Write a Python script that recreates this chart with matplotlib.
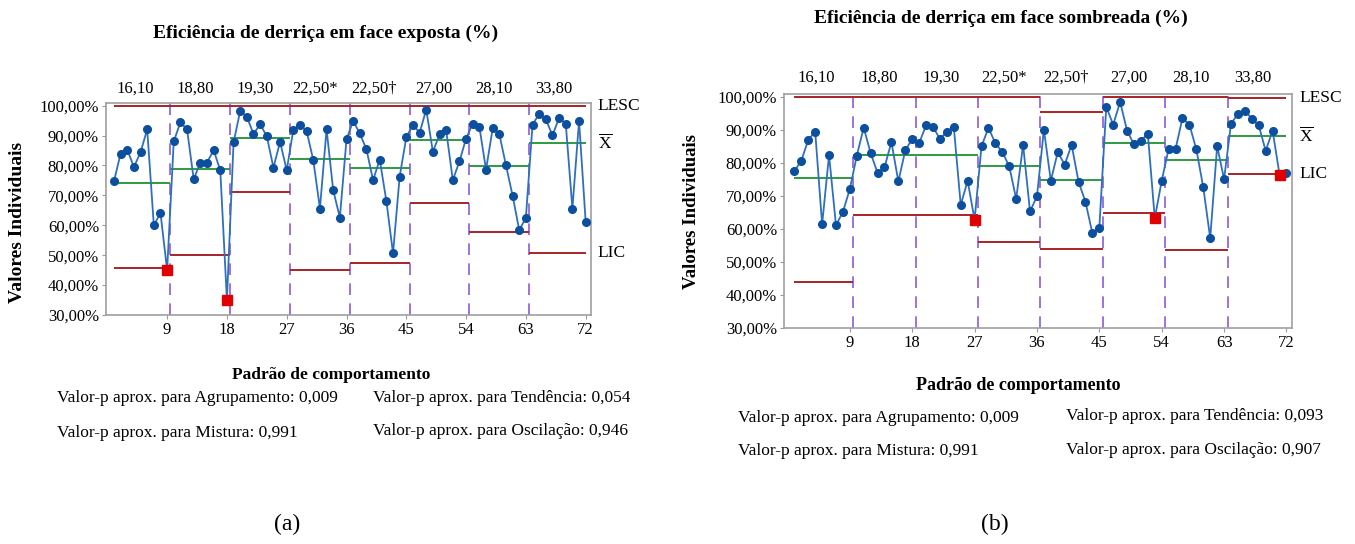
import matplotlib
matplotlib.use('Agg')
import matplotlib.pyplot as plt
import matplotlib.transforms as mtransforms

plt.rcParams['font.family'] = ['Liberation Serif', 'DejaVu Serif']
plt.rcParams['mathtext.fontset'] = 'custom'
plt.rcParams['mathtext.rm'] = 'Liberation Serif'

# estagios (padroes de comportamento) e eixos
estagios = ['16,10', '18,80', '19,30', '22,50*', '22,50\u2020', '27,00', '28,10', '33,80']
xticks = [9, 18, 27, 36, 45, 54, 63, 72]
yticks = [30, 40, 50, 60, 70, 80, 90, 100]

# (a) face exposta
exposta = [74.7, 84.0, 85.3, 79.5, 84.4, 92.1, 60.0, 64.1, 45.0,
           88.1, 94.4, 92.1, 75.4, 81.0, 81.0, 85.1, 78.4, 35.0,
           87.7, 98.2, 96.3, 90.5, 93.8, 89.8, 79.3, 87.9, 78.4,
           92.0, 93.5, 91.5, 81.8, 65.6, 92.1, 71.7, 62.6, 88.7,
           94.9, 90.7, 85.4, 75.1, 82.0, 68.1, 50.6, 76.3, 89.4,
           93.7, 90.9, 98.7, 84.6, 90.4, 91.8, 75.1, 81.4, 89.0,
           94.0, 92.9, 78.6, 92.4, 90.5, 80.1, 69.9, 58.4, 62.5,
           93.7, 97.2, 95.4, 90.1, 95.9, 94.0, 65.6, 94.9, 61.1]
exposta_media = [74.3, 78.9, 89.1, 82.2, 79.2, 88.4, 79.9, 87.5]
exposta_lic = [45.8, 50.2, 71.0, 45.2, 47.3, 67.6, 57.6, 50.9]
exposta_lesc = [100, 100, 100, 100, 100, 100, 100, 100]
exposta_fora = [9, 18]
exposta_p = ['0,009', '0,054', '0,991', '0,946']

# (b) face sombreada
sombreada = [77.5, 80.7, 87.0, 89.5, 61.4, 82.4, 61.1, 65.2, 72.1,
             82.2, 90.7, 83.0, 77.0, 78.7, 86.3, 74.4, 83.8, 87.3,
             86.0, 91.4, 90.9, 87.3, 89.5, 90.9, 67.3, 74.6, 62.8,
             85.1, 90.6, 86.0, 83.3, 79.0, 69.1, 85.5, 65.3, 69.9,
             90.1, 74.6, 83.3, 79.5, 85.5, 74.3, 68.2, 58.7, 60.4,
             97.0, 91.6, 98.5, 89.8, 85.6, 86.8, 88.8, 63.2, 74.6,
             84.3, 84.3, 93.6, 91.6, 84.1, 72.6, 57.2, 85.1, 75.1,
             91.9, 94.9, 95.9, 93.4, 91.4, 83.7, 89.8, 76.5, 76.9]
sombreada_media = [75.3, 82.4, 82.4, 79.2, 74.9, 86.2, 80.9, 88.3]
sombreada_lic = [43.9, 64.3, 64.3, 56.2, 54.0, 64.7, 53.5, 76.7]
sombreada_lesc = [100, 100, 100, 100, 95.4, 100, 100, 99.6]
sombreada_fora = [27, 53, 71]
sombreada_p = ['0,009', '0,093', '0,991', '0,907']


def fmt_pct(v):
    return '{:.2f}%'.format(v).replace('.', ',')


def desenha(ax, valores, media, lic, lesc, fora, xmin):
    n = len(valores)
    x = list(range(1, n + 1))
    ax.plot(x, valores, color='#2f6fbd', lw=1.3, marker='o', ms=5.5,
            mfc='#0c4f9f', mec='#0c4f9f', zorder=3)
    ax.plot(fora, [valores[i - 1] for i in fora], ls='none', marker='s', ms=7,
            mfc='#e00000', mec='#e00000', zorder=4)
    trans = mtransforms.blended_transform_factory(ax.transData, ax.transAxes)
    for k in range(len(estagios)):
        ini = max(1, k * 9 + 0.5)
        fim = min(n, k * 9 + 9.5)
        ax.hlines(lesc[k], ini, fim, color='#a82428', lw=1.4, zorder=2)
        ax.hlines(media[k], ini, fim, color='#2e9b3e', lw=1.4, zorder=2)
        ax.hlines(lic[k], ini, fim, color='#a82428', lw=1.4, zorder=2)
        ax.text(k * 9 + 4.2, 1.07, estagios[k], transform=trans,
                ha='center', va='center', fontsize=12)
        if k > 0:
            ax.axvline(k * 9 + 0.5, color='#8b5bd8', lw=1.2, ls=(0, (7, 5)), zorder=1)

    trans2 = mtransforms.blended_transform_factory(ax.transAxes, ax.transData)
    ax.text(1.014, lesc[-1], 'LESC', transform=trans2, ha='left', va='center', fontsize=12.5)
    ax.text(1.014, media[-1], r'$\overline{\mathrm{X}}$', transform=trans2,
            ha='left', va='center', fontsize=12.5)
    ax.text(1.014, lic[-1], 'LIC', transform=trans2, ha='left', va='center', fontsize=12.5)

    ax.set_xlim(xmin, 72.8)
    ax.set_ylim(30, 100.9)
    ax.set_xticks(xticks)
    ax.set_yticks(yticks)
    ax.set_yticklabels([fmt_pct(v) for v in yticks])
    ax.tick_params(direction='out', length=3, color='#9a9a9a', labelsize=12, pad=2)
    for s in ax.spines.values():
        s.set_color('#a0a0a0')
        s.set_linewidth(1.2)


fig = plt.figure(figsize=(13.55, 5.44), dpi=100)
W, H = 1355.0, 544.0

ax1 = fig.add_axes([106 / W, 1 - 315 / H, 485 / W, 212 / H])
desenha(ax1, exposta, exposta_media, exposta_lic, exposta_lesc, exposta_fora, -0.2)

ax2 = fig.add_axes([784 / W, 1 - 328 / H, 508 / W, 234 / H])
desenha(ax2, sombreada, sombreada_media, sombreada_lic, sombreada_lesc, sombreada_fora, -0.5)

# titulos e rotulos
fig.text(326 / W, 1 - 33 / H, 'Eficiência de derriça em face exposta (%)',
         ha='center', va='center', fontsize=14, fontweight='bold')
fig.text(1001 / W, 1 - 18 / H, 'Eficiência de derriça em face sombreada (%)',
         ha='center', va='center', fontsize=14, fontweight='bold')
fig.text(18 / W, 1 - 222 / H, 'Valores Individuais', rotation=90,
         ha='center', va='center', fontsize=14, fontweight='bold')
fig.text(691 / W, 1 - 211 / H, 'Valores Individuais', rotation=90,
         ha='center', va='center', fontsize=13.5, fontweight='bold')
fig.text(331 / W, 1 - 375 / H, 'Padrão de comportamento',
         ha='center', va='center', fontsize=12.5, fontweight='bold')
fig.text(1018 / W, 1 - 386 / H, 'Padrão de comportamento',
         ha='center', va='center', fontsize=13, fontweight='bold')

nomes = ['Agrupamento', 'Tendência', 'Mistura', 'Oscilação']
pos_a = [(57, 398), (373, 398), (57, 433), (373, 431)]
pos_b = [(738, 418), (1066, 416), (738, 451), (1066, 450)]
for nome, p, (px, py) in zip(nomes, exposta_p, pos_a):
    fig.text(px / W, 1 - py / H, 'Valor-p aprox. para ' + nome + ': ' + p,
             ha='left', va='center', fontsize=12.5)
for nome, p, (px, py) in zip(nomes, sombreada_p, pos_b):
    fig.text(px / W, 1 - py / H, 'Valor-p aprox. para ' + nome + ': ' + p,
             ha='left', va='center', fontsize=12.5)

fig.text(287 / W, 1 - 524 / H, '(a)', ha='center', va='center', fontsize=17)
fig.text(995 / W, 1 - 524 / H, '(b)', ha='center', va='center', fontsize=17)

fig.savefig('out.png', dpi=100)
